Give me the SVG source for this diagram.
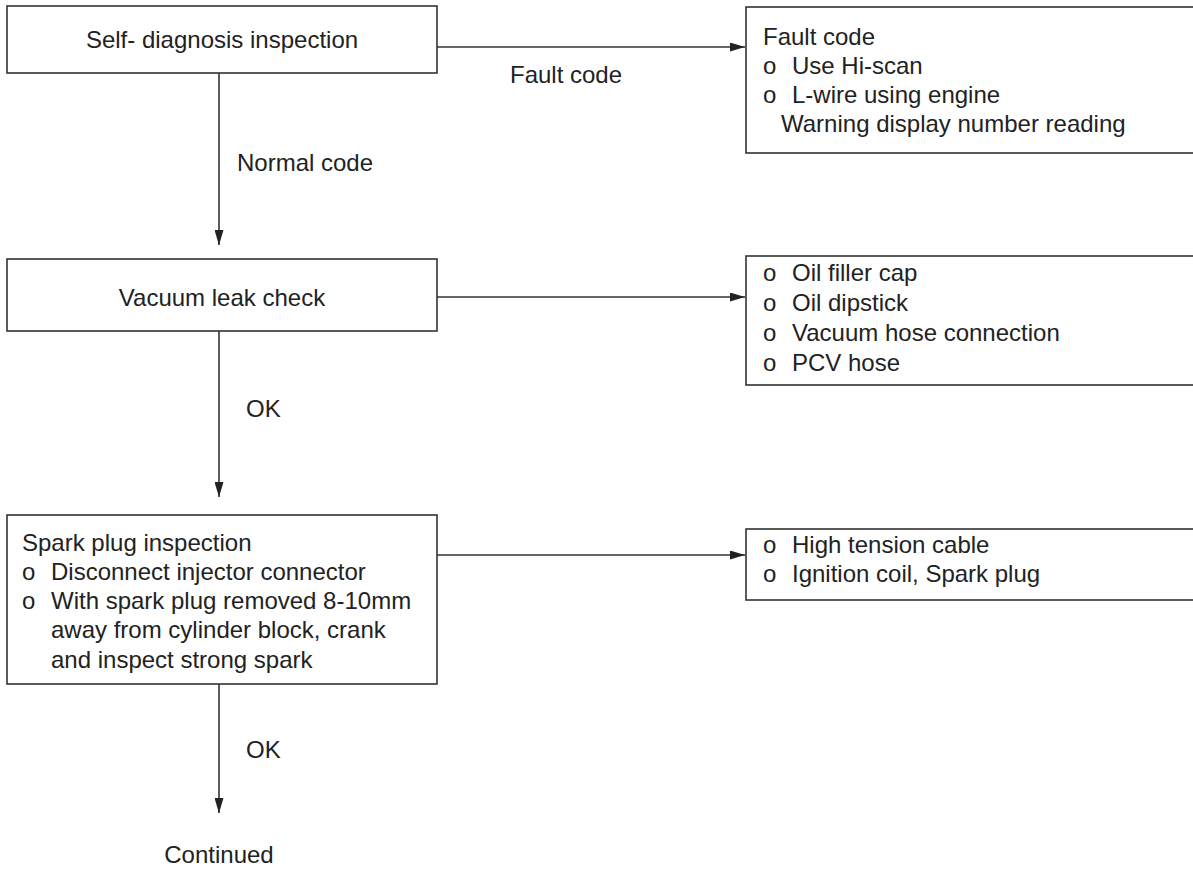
<svg xmlns="http://www.w3.org/2000/svg" width="1193" height="872" viewBox="0 0 1193 872">
<style>
.box{fill:#fff;stroke:#333;stroke-width:1.6}
.ln{stroke:#333;stroke-width:1.6;fill:none}
text{font-family:"Liberation Sans",Arial,sans-serif;font-size:24px;fill:#222}
.c{text-anchor:middle}
</style>
<defs>
<marker id="ah" viewBox="0 0 15 9" refX="15" refY="4.5" markerWidth="15" markerHeight="9" markerUnits="userSpaceOnUse" orient="auto">
<path d="M0,0 L15,4.5 L0,9 Z" fill="#222"/>
</marker>
</defs>
<g id="connectors">
<line class="ln" x1="437" y1="47" x2="745" y2="47" marker-end="url(#ah)"/>
<line class="ln" x1="219" y1="73" x2="219" y2="245" marker-end="url(#ah)"/>
<line class="ln" x1="437" y1="297" x2="745" y2="297" marker-end="url(#ah)"/>
<line class="ln" x1="219" y1="331" x2="219" y2="497" marker-end="url(#ah)"/>
<line class="ln" x1="437" y1="555" x2="745" y2="555" marker-end="url(#ah)"/>
<line class="ln" x1="219" y1="684" x2="219" y2="813" marker-end="url(#ah)"/>
<text x="510" y="83">Fault code</text>
<text x="237" y="171">Normal code</text>
<text x="246" y="417">OK</text>
<text x="246" y="758">OK</text>
</g>
<g id="n1">
<rect class="box" x="7" y="6" width="430" height="67"/>
<text class="c" x="222" y="48">Self- diagnosis inspection</text>
</g>
<g id="n2">
<rect class="box" x="746" y="7" width="460" height="146"/>
<text x="763" y="45">Fault code</text>
<text x="763" y="74">o</text><text x="792" y="74">Use Hi-scan</text>
<text x="763" y="103">o</text><text x="792" y="103">L-wire using engine</text>
<text x="781" y="132">Warning display number reading</text>
</g>
<g id="n3">
<rect class="box" x="7" y="259" width="430" height="72"/>
<text class="c" x="222" y="306">Vacuum leak check</text>
</g>
<g id="n4">
<rect class="box" x="746" y="256" width="460" height="129"/>
<text x="763" y="281">o</text><text x="792" y="281">Oil filler cap</text>
<text x="763" y="311">o</text><text x="792" y="311">Oil dipstick</text>
<text x="763" y="341">o</text><text x="792" y="341">Vacuum hose connection</text>
<text x="763" y="371">o</text><text x="792" y="371">PCV hose</text>
</g>
<g id="n5">
<rect class="box" x="7" y="515" width="430" height="169"/>
<text x="22" y="551">Spark plug inspection</text>
<text x="22" y="580">o</text><text x="51" y="580">Disconnect injector connector</text>
<text x="22" y="609">o</text><text x="51" y="609">With spark plug removed 8-10mm</text>
<text x="51" y="638">away from cylinder block, crank</text>
<text x="51" y="668">and inspect strong spark</text>
</g>
<g id="n6">
<rect class="box" x="746" y="529" width="460" height="71"/>
<text x="763" y="553">o</text><text x="792" y="553">High tension cable</text>
<text x="763" y="582">o</text><text x="792" y="582">Ignition coil, Spark plug</text>
</g>
<g id="n7">
<text class="c" x="219" y="863">Continued</text>
</g>
</svg>
